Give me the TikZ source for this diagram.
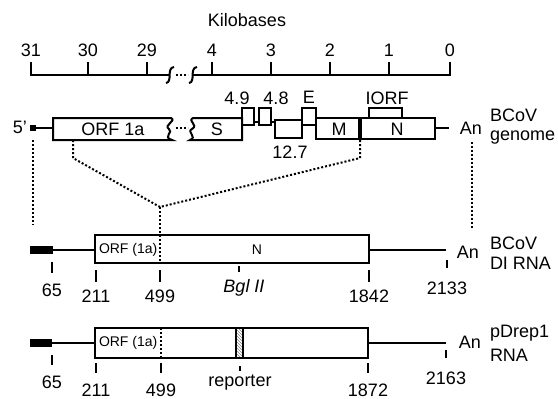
\documentclass[tikz,border=0pt]{standalone}
\usepackage{fontspec}
\setmainfont{Liberation Sans}
\usetikzlibrary{patterns}

\begin{document}
\begin{tikzpicture}[x=1pt,y=-1pt,line width=2pt,
    lbl/.style={font=\fontsize{18}{20}\selectfont, inner sep=0pt},
    small/.style={font=\fontsize{14}{16}\selectfont, inner sep=0pt},
    dots/.style={dash pattern=on 2pt off 2pt, line width=2pt}]
  \useasboundingbox (0,0) rectangle (558,399);

  % kilobase scale
  \node[lbl] (kb) at (247,20) {Kilobases};
  \draw (31,62) -- (31,75) -- (170,75);
  \draw (193,75) -- (450,75) -- (450,62);
  \foreach \x in {88,147,212,271,330,389}
    \draw (\x,62) -- (\x,75);
  \foreach \x/\t in {31/31,88/30,147/29,212/4,271/3,330/2,389/1,450/0}
    \node[lbl] (kb\t) at (\x,50) {\t};
  \draw (174,67) .. controls (166,68) and (173,82) .. (166,83);
  \draw (197,67) .. controls (189,68) and (196,82) .. (189,83);
  \draw[dots] (176,75) -- (188,75);

  % BCoV genome
  \node[lbl, anchor=east] (five) at (28,127) {5'};
  \fill (30,125) rectangle (36,131);
  \draw (36,128) -- (53,128);
  \draw (53,118) -- (171,118) .. controls (177,121) and (163,125) .. (169,129)
        .. controls (174,132) and (162,137) .. (172,140) -- (53,140) -- cycle;
  \draw[dots] (176,128) -- (188,128);
  \draw (242,118) -- (193,118) .. controls (187,121) and (199,125) .. (192,129)
        .. controls (186,132) and (198,137) .. (190,140) -- (242,140) -- cycle;
  \draw (242,108) rectangle (254,125);
  \draw (254,122) -- (259,122);
  \draw (259,108) rectangle (271,125);
  \draw (271,122) -- (275,122);
  \draw (275,120) rectangle (302,138);
  \draw (302,108) rectangle (316,125);
  \draw (316,118) rectangle (360,139);
  \draw (360,118) rectangle (435,139);
  \draw[line width=4pt] (360,118) -- (360,139);
  \draw (369,118) -- (369,108) -- (402,108) -- (402,118);
  \draw (435,128) -- (449,128);
  \node[lbl] (orf1a) at (113,129) {ORF 1a};
  \node[lbl] (S) at (217,129) {S};
  \node[lbl] (p49) at (237,98) {4.9};
  \node[lbl] (p48) at (276,98) {4.8};
  \node[lbl] (E) at (309,97) {E};
  \node[lbl] (IORF) at (387,98) {IORF};
  \node[lbl] (p127) at (290,152) {12.7};
  \node[lbl] (M) at (339,129) {M};
  \node[lbl] (N) at (397,129) {N};
  \node[lbl] (an1) at (471,128) {An};
  \node[lbl, anchor=west] (g1) at (489,115) {BCoV};
  \node[lbl, anchor=west] (g2) at (489,138) {genome};

  % dotted projections
  \coordinate (orfA) at (73,140);
  \coordinate (mn) at (360,140);
  \coordinate (fork) at (160,207);
  \draw[dots] (33,140) -- (33,225);
  \draw[dots] (orfA) -- (73,158) -- (fork);
  \draw[dots] (mn) -- (360,158) -- (fork);
  \draw[dots] (fork) -- (160,263);
  \draw[dots] (472,142) -- (472,228);

  % BCoV DI RNA
  \fill (30,246) rectangle (53,254);
  \draw (53,250) -- (95,250);
  \draw (95,235) rectangle (369,263);
  \draw[dots] (160,235) -- (160,263);
  \draw (369,250) -- (446,250);
  \draw (52,262) -- (52,273);
  \draw (96,270) -- (96,282);
  \draw (160,270) -- (160,282);
  \draw (239,266) -- (239,272);
  \draw (369,270) -- (369,282);
  \draw (447,260) -- (447,268);
  \node[small, anchor=west] (diorf) at (98,250) {ORF (1a)};
  \node[small] (diN) at (257,250) {N};
  \node[lbl] (d65) at (52,290) {65};
  \node[lbl] (d211) at (96,296) {211};
  \node[lbl] (d499) at (160,296) {499};
  \node[lbl] (bgl) at (244,288) {\itshape Bgl II};
  \node[lbl] (d1842) at (369,296) {1842};
  \node[lbl] (d2133) at (447,288) {2133};
  \node[lbl] (an2) at (468,252) {An};
  \node[lbl, anchor=west] (di1) at (489,243) {BCoV};
  \node[lbl, anchor=west] (di2) at (489,263) {DI RNA};

  % pDrep1 RNA
  \fill (30,339) rectangle (52,347);
  \draw (52,343) -- (95,343);
  \draw (95,328) rectangle (368,358);
  \draw[dots] (161,328) -- (161,358);
  \draw[pattern=north west lines, pattern color=gray] (236,328) rectangle (243,358);
  \draw (368,343) -- (446,343);
  \draw (52,355) -- (52,365);
  \draw (96,363) -- (96,373);
  \draw (161,363) -- (161,373);
  \draw (240,366) -- (240,371);
  \draw (368,363) -- (368,373);
  \draw (446,350) -- (446,358);
  \node[small, anchor=west] (porf) at (98,343) {ORF (1a)};
  \node[lbl] (p65) at (52,382) {65};
  \node[lbl] (p211) at (96,390) {211};
  \node[lbl] (p499) at (161,390) {499};
  \node[lbl] (rep) at (240,383) {reporter};
  \node[lbl] (p1872) at (368,390) {1872};
  \node[lbl] (p2163) at (446,378) {2163};
  \node[lbl] (an3) at (470,342) {An};
  \node[lbl, anchor=west] (pd1) at (489,333) {pDrep1};
  \node[lbl, anchor=west] (pd2) at (489,355) {RNA};
\end{tikzpicture}
\end{document}
